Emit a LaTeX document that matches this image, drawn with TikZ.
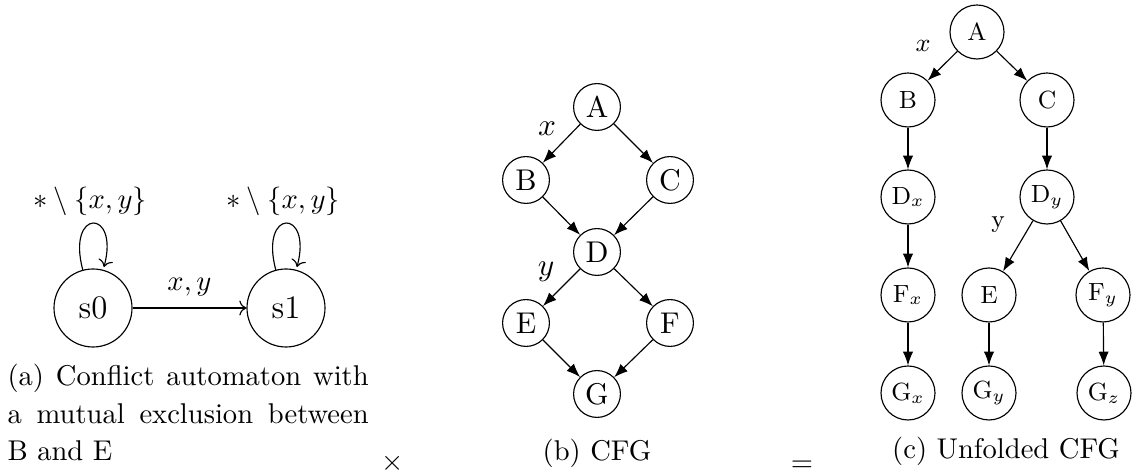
\documentclass[tikz,border=0pt]{standalone}
\usetikzlibrary{arrows.meta}
\begin{document}
\begin{tikzpicture}[x=0.35pt,y=-0.35pt,
  st/.style={circle,draw,minimum size=27.3pt,inner sep=0pt,font=\fontsize{11.5}{13}\selectfont},
  cb/.style={circle,draw,minimum size=16.4pt,inner sep=0pt,font=\fontsize{10.5}{12}\selectfont},
  cc/.style={circle,draw,minimum size=18.9pt,inner sep=0pt,font=\fontsize{8.7}{10}\selectfont},
  lab/.style={inner sep=0pt,font=\fontsize{10}{12}\selectfont},
  labb/.style={inner sep=0pt,font=\fontsize{10.5}{12}\selectfont},
  labc/.style={inner sep=0pt,font=\fontsize{8.7}{10}\selectfont},
  captxt/.style={inner sep=0pt,font=\fontsize{10}{12}\selectfont},
  ar/.style={-{Latex[length=4.8pt,width=3.6pt]}},
  ]
\useasboundingbox (0,0) rectangle (1132,474);
% (a)
\node[st] (s0) at (93,308) {s0};
\node[st] (s1) at (286,308) {s1};
\draw[->] (s0) -- node[lab,above=4pt] (lxy) {$x,y$} (s1);
\draw (s0) edge[->,loop above] (s0);
\draw (s1) edge[->,loop above] (s1);
\node[lab] (l0) at (90,201) {$*\setminus\{x,y\}$};
\node[lab] (l1) at (283,201) {$*\setminus\{x,y\}$};
\node[captxt,anchor=base west] (capa1) at (7,386) {\makebox[126.4pt][s]{(a) Conflict automaton with}};
\node[captxt,anchor=base west] (capa2) at (7,423.5) {\makebox[126.4pt][s]{a mutual exclusion between}};
\node[captxt,anchor=base west] (capa3) at (7,461) {B and E};
\node[captxt] (times) at (393,463) {$\times$};
% (b)
\node[cb] (bA) at (597,107) {A};
\node[cb] (bB) at (526,180) {B};
\node[cb] (bC) at (670,180) {C};
\node[cb] (bD) at (597,252) {D};
\node[cb] (bE) at (526,323) {E};
\node[cb] (bF) at (670,323) {F};
\node[cb] (bG) at (597,394) {G};
\draw[ar] (bA) -- (bB);
\draw[ar] (bA) -- (bC);
\draw[ar] (bB) -- (bD);
\draw[ar] (bC) -- (bD);
\draw[ar] (bD) -- (bE);
\draw[ar] (bD) -- (bF);
\draw[ar] (bE) -- (bG);
\draw[ar] (bF) -- (bG);
\node[labb] (bx) at (547,129) {$x$};
\node[labb] (by) at (546,272) {$y$};
\node[captxt,anchor=base] (capb) at (597,461) {(b) CFG};
\node[captxt] (eq) at (802,466) {$=$};
% (c)
\node[cc] (cA) at (977,32) {A};
\node[cc] (cB) at (908,100) {B};
\node[cc] (cC) at (1047,100) {C};
\node[cc] (cDx) at (908,197) {D$_x$};
\node[cc] (cDy) at (1047,197) {D$_y$};
\node[cc] (cFx) at (908,295) {F$_x$};
\node[cc] (cE) at (989,295) {E};
\node[cc] (cFy) at (1103,295) {F$_y$};
\node[cc] (cGx) at (908,393) {G$_x$};
\node[cc] (cGy) at (989,393) {G$_y$};
\node[cc] (cGz) at (1104,393) {G$_z$};
\draw[ar] (cA) -- (cB);
\draw[ar] (cA) -- (cC);
\draw[ar] (cB) -- (cDx);
\draw[ar] (cC) -- (cDy);
\draw[ar] (cDx) -- (cFx);
\draw[ar] (cFx) -- (cGx);
\draw[ar] (cDy) -- (cE);
\draw[ar] (cDy) -- (cFy);
\draw[ar] (cE) -- (cGy);
\draw[ar] (cFy) -- (cGz);
\node[labc] (cx) at (923,46) {$x$};
\node[labc] (cy) at (998,225) {y};
\node[captxt,anchor=base] (capc) at (1006,459) {(c) Unfolded CFG};
\end{tikzpicture}
\end{document}
